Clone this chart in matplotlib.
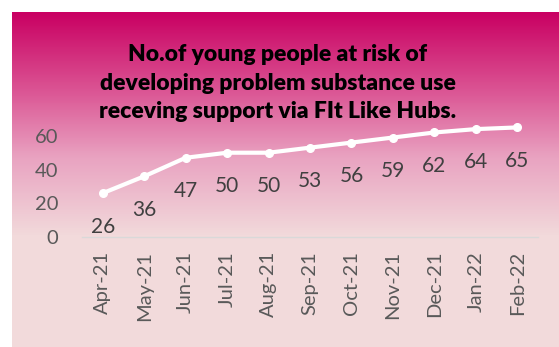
import numpy as np
import matplotlib.pyplot as plt
from matplotlib.colors import LinearSegmentedColormap

months = ["Apr-21", "May-21", "Jun-21", "Jul-21", "Aug-21", "Sep-21",
          "Oct-21", "Nov-21", "Dec-21", "Jan-22", "Feb-22"]
young_people = [26, 36, 47, 50, 50, 53, 56, 59, 62, 64, 65]
y_ticks = [0, 20, 40, 60]

title = ("No.of young people at risk of\n"
         "developing problem substance use\n"
         "receving support via FIt Like Hubs.")

plt.rcParams['font.family'] = ['Lato', 'DejaVu Sans']

W, H = 559, 347
fig = plt.figure(figsize=(W / 100, H / 100), dpi=100)
fig.patch.set_facecolor("white")

# pink gradient panel behind the chart
bg = fig.add_axes([12 / W, 0, (W - 12) / W, (H - 12) / H], zorder=0)
bg.set_axis_off()
pink = LinearSegmentedColormap.from_list(
    "pink", [(0.0, "#C90062"), (0.35, "#DB5594"), (0.65, "#E9A3C1"), (1.0, "#F2DADB")])
rows = np.linspace(0, 1, 335)
grad = np.clip(rows / 0.67, 0, 1)[:, None]
bg.imshow(grad, aspect="auto", cmap=pink, extent=[0, 1, 0, 1], origin="upper")

ax = fig.add_axes([82 / W, 1 - 237 / H, (538 - 82) / W, (237 - 119) / H], zorder=1)
ax.patch.set_alpha(0)
x = np.arange(len(months))
ax.plot(x, young_people, color="white", lw=3, marker="o", ms=5.5, solid_capstyle="round")
for xi, v in zip(x, young_people):
    ax.annotate(str(v), (xi, v), xytext=(0, -24), textcoords="offset points",
                ha="center", va="center", fontsize=15, color="#404040")

ax.set_xlim(-0.5, len(months) - 0.5)
ax.set_ylim(0, 70)
ax.set_yticks(y_ticks)
ax.set_xticks(x)
ax.set_xticklabels(months, rotation=90)
ax.tick_params(axis="both", length=0, labelsize=14.5, labelcolor="#595959")
ax.tick_params(axis="x", pad=10)
ax.tick_params(axis="y", pad=17)
for s in ["top", "right", "left"]:
    ax.spines[s].set_visible(False)
ax.spines["bottom"].set_color("#D9D9D9")
ax.spines["bottom"].set_linewidth(1)

fig.text(278 / W, 1 - 83 / H, title, ha="center", va="center",
         fontsize=16.5, fontweight="heavy", color="black", linespacing=1.45)

fig.savefig("out.png", dpi=100)
